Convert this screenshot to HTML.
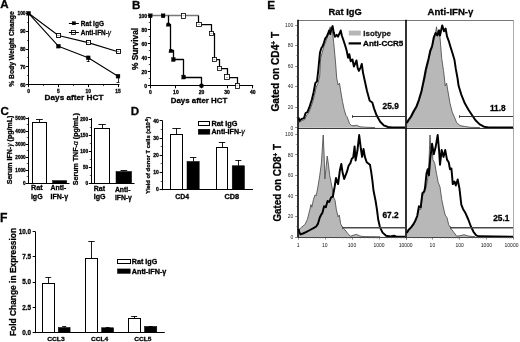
<!DOCTYPE html>
<html><head><meta charset="utf-8"><title>Figure</title>
<style>
html,body{margin:0;padding:0;background:#fff;}
body{width:520px;height:342px;overflow:hidden;}
svg{display:block;font-family:"Liberation Sans", sans-serif;}
</style></head>
<body>
<svg width="520" height="342" viewBox="0 0 520 342">
<defs><filter id="soft" x="0" y="0" width="520" height="342" filterUnits="userSpaceOnUse"><feGaussianBlur stdDeviation="0.42"/></filter></defs>
<rect x="0" y="0" width="520" height="342" fill="#ffffff"/>
<g filter="url(#soft)">
<rect x="0" y="0" width="520" height="342" fill="#ffffff"/>
<text x="0.3" y="8.2" font-size="11.6" text-anchor="start" font-weight="bold" fill="#000" stroke="#000" stroke-width="0.28">A</text>
<text x="132.0" y="8.6" font-size="11.6" text-anchor="start" font-weight="bold" fill="#000" stroke="#000" stroke-width="0.28">B</text>
<text x="0.5" y="115.0" font-size="11.6" text-anchor="start" font-weight="bold" fill="#000" stroke="#000" stroke-width="0.28">C</text>
<text x="130.8" y="114.7" font-size="11.6" text-anchor="start" font-weight="bold" fill="#000" stroke="#000" stroke-width="0.28">D</text>
<text x="267.2" y="8.8" font-size="11.8" text-anchor="start" font-weight="bold" fill="#000" stroke="#000" stroke-width="0.28">E</text>
<text x="-0.1" y="222.0" font-size="12.2" text-anchor="start" font-weight="bold" fill="#000" stroke="#000" stroke-width="0.28">F</text>
<line x1="28.5" y1="12.5" x2="28.5" y2="85.19999999999999" stroke="#000" stroke-width="1.05"/>
<line x1="28.1" y1="84.5" x2="119.5" y2="84.5" stroke="#000" stroke-width="1.05"/>
<line x1="26.1" y1="13.5" x2="28.6" y2="13.5" stroke="#000" stroke-width="1"/>
<text x="25.6" y="15.100000000000001" font-size="4.9" text-anchor="end" font-weight="bold" fill="#000" stroke="#000" stroke-width="0.28">100</text>
<line x1="26.1" y1="31.5" x2="28.6" y2="31.5" stroke="#000" stroke-width="1"/>
<text x="25.6" y="32.97" font-size="4.9" text-anchor="end" font-weight="bold" fill="#000" stroke="#000" stroke-width="0.28">90</text>
<line x1="26.1" y1="49.5" x2="28.6" y2="49.5" stroke="#000" stroke-width="1"/>
<text x="25.6" y="50.83999999999999" font-size="4.9" text-anchor="end" font-weight="bold" fill="#000" stroke="#000" stroke-width="0.28">80</text>
<line x1="26.1" y1="66.5" x2="28.6" y2="66.5" stroke="#000" stroke-width="1"/>
<text x="25.6" y="68.71" font-size="4.9" text-anchor="end" font-weight="bold" fill="#000" stroke="#000" stroke-width="0.28">70</text>
<line x1="26.1" y1="84.5" x2="28.6" y2="84.5" stroke="#000" stroke-width="1"/>
<text x="25.6" y="86.57999999999998" font-size="4.9" text-anchor="end" font-weight="bold" fill="#000" stroke="#000" stroke-width="0.28">60</text>
<line x1="27.1" y1="22.5" x2="28.6" y2="22.5" stroke="#000" stroke-width="0.7"/>
<line x1="27.1" y1="40.5" x2="28.6" y2="40.5" stroke="#000" stroke-width="0.7"/>
<line x1="27.1" y1="57.5" x2="28.6" y2="57.5" stroke="#000" stroke-width="0.7"/>
<line x1="27.1" y1="75.5" x2="28.6" y2="75.5" stroke="#000" stroke-width="0.7"/>
<line x1="28.5" y1="84.6" x2="28.5" y2="87.1" stroke="#000" stroke-width="1"/>
<text x="28.6" y="92.6" font-size="4.9" text-anchor="middle" font-weight="bold" fill="#000" stroke="#000" stroke-width="0.28">0</text>
<line x1="58.5" y1="84.6" x2="58.5" y2="87.1" stroke="#000" stroke-width="1"/>
<text x="58.400000000000006" y="92.6" font-size="4.9" text-anchor="middle" font-weight="bold" fill="#000" stroke="#000" stroke-width="0.28">5</text>
<line x1="88.5" y1="84.6" x2="88.5" y2="87.1" stroke="#000" stroke-width="1"/>
<text x="88.2" y="92.6" font-size="4.9" text-anchor="middle" font-weight="bold" fill="#000" stroke="#000" stroke-width="0.28">10</text>
<line x1="118.5" y1="84.6" x2="118.5" y2="87.1" stroke="#000" stroke-width="1"/>
<text x="118.0" y="92.6" font-size="4.9" text-anchor="middle" font-weight="bold" fill="#000" stroke="#000" stroke-width="0.28">15</text>
<line x1="43.5" y1="84.6" x2="43.5" y2="86.1" stroke="#000" stroke-width="0.7"/>
<line x1="73.5" y1="84.6" x2="73.5" y2="86.1" stroke="#000" stroke-width="0.7"/>
<line x1="103.5" y1="84.6" x2="103.5" y2="86.1" stroke="#000" stroke-width="0.7"/>
<text x="44.6" y="100.2" font-size="8.0" font-weight="bold" fill="#000" textLength="58.80" lengthAdjust="spacingAndGlyphs" stroke="#000" stroke-width="0.28">Days after HCT</text>
<text x="13.6" y="86.8" font-size="6.7" font-weight="bold" fill="#000" textLength="75.50" lengthAdjust="spacingAndGlyphs" transform="rotate(-90 13.6 86.8)" stroke="#000" stroke-width="0.28">% Body Weight Change</text>
<polyline points="28.6,13.3 58.4,35.5 88.2,42.6 118.0,51.7" fill="none" stroke="#000" stroke-width="1.1" stroke-linejoin="round"/>
<polyline points="28.6,13.3 58.4,46.2 88.2,57.8 118.0,76.2" fill="none" stroke="#000" stroke-width="1.1" stroke-linejoin="round"/>
<line x1="88.5" y1="57.7963" x2="88.5" y2="61.906400000000005" stroke="#000" stroke-width="0.8"/>
<line x1="86.7" y1="61.5" x2="89.7" y2="61.5" stroke="#000" stroke-width="0.8"/>
<line x1="118.5" y1="76.2024" x2="118.5" y2="82.09949999999999" stroke="#000" stroke-width="0.8"/>
<line x1="116.5" y1="82.5" x2="119.5" y2="82.5" stroke="#000" stroke-width="0.8"/>
<rect x="56.50" y="33.50" width="4.00" height="4.00" fill="#fff" stroke="#000" stroke-width="0.9"/>
<line x1="57.2" y1="35.5" x2="59.60000000000001" y2="35.5" stroke="#555" stroke-width="0.6"/>
<rect x="86.50" y="40.50" width="4.00" height="4.00" fill="#fff" stroke="#000" stroke-width="0.9"/>
<line x1="87.0" y1="42.5" x2="89.4" y2="42.5" stroke="#555" stroke-width="0.6"/>
<rect x="116.50" y="49.50" width="4.00" height="4.00" fill="#fff" stroke="#000" stroke-width="0.9"/>
<line x1="116.8" y1="51.5" x2="119.2" y2="51.5" stroke="#555" stroke-width="0.6"/>
<rect x="26.70" y="11.40" width="3.80" height="3.80" fill="#000" stroke="#000" stroke-width="0.4"/>
<rect x="56.50" y="44.28" width="3.80" height="3.80" fill="#000" stroke="#000" stroke-width="0.4"/>
<rect x="86.30" y="55.90" width="3.80" height="3.80" fill="#000" stroke="#000" stroke-width="0.4"/>
<rect x="116.10" y="74.30" width="3.80" height="3.80" fill="#000" stroke="#000" stroke-width="0.4"/>
<line x1="68.9" y1="23.5" x2="78.9" y2="23.5" stroke="#000" stroke-width="1"/>
<rect x="72.10" y="21.60" width="3.50" height="3.30" fill="#000" stroke="#000" stroke-width="0.3"/>
<text x="80.8" y="25.5" font-size="6.5" font-weight="bold" fill="#000" textLength="23.20" lengthAdjust="spacingAndGlyphs" stroke="#000" stroke-width="0.28">Rat IgG</text>
<line x1="68.9" y1="32.5" x2="78.9" y2="32.5" stroke="#000" stroke-width="1"/>
<rect x="71.50" y="30.50" width="4.00" height="4.00" fill="none" stroke="#000" stroke-width="0.8"/>
<text x="80.8" y="34.9" font-size="6.5" font-weight="bold" fill="#000" textLength="30.20" lengthAdjust="spacingAndGlyphs" stroke="#000" stroke-width="0.28">Anti-IFN-<tspan font-weight="normal" font-style="italic" fill="#333">&#947;</tspan></text>
<line x1="150.5" y1="15.0" x2="150.5" y2="86.39999999999999" stroke="#000" stroke-width="1.05"/>
<line x1="149.8" y1="85.5" x2="253.20000000000002" y2="85.5" stroke="#000" stroke-width="1.05"/>
<line x1="147.8" y1="15.5" x2="150.3" y2="15.5" stroke="#000" stroke-width="1"/>
<text x="147.10000000000002" y="17.6" font-size="5.0" text-anchor="end" font-weight="bold" fill="#000" stroke="#000" stroke-width="0.28">100</text>
<line x1="147.8" y1="29.5" x2="150.3" y2="29.5" stroke="#000" stroke-width="1"/>
<text x="147.10000000000002" y="31.6" font-size="5.0" text-anchor="end" font-weight="bold" fill="#000" stroke="#000" stroke-width="0.28">80</text>
<line x1="147.8" y1="43.5" x2="150.3" y2="43.5" stroke="#000" stroke-width="1"/>
<text x="147.10000000000002" y="45.599999999999994" font-size="5.0" text-anchor="end" font-weight="bold" fill="#000" stroke="#000" stroke-width="0.28">60</text>
<line x1="147.8" y1="57.5" x2="150.3" y2="57.5" stroke="#000" stroke-width="1"/>
<text x="147.10000000000002" y="59.599999999999994" font-size="5.0" text-anchor="end" font-weight="bold" fill="#000" stroke="#000" stroke-width="0.28">40</text>
<line x1="147.8" y1="71.5" x2="150.3" y2="71.5" stroke="#000" stroke-width="1"/>
<text x="147.10000000000002" y="73.6" font-size="5.0" text-anchor="end" font-weight="bold" fill="#000" stroke="#000" stroke-width="0.28">20</text>
<line x1="147.8" y1="85.5" x2="150.3" y2="85.5" stroke="#000" stroke-width="1"/>
<text x="147.10000000000002" y="87.6" font-size="5.0" text-anchor="end" font-weight="bold" fill="#000" stroke="#000" stroke-width="0.28">0</text>
<line x1="148.8" y1="22.5" x2="150.3" y2="22.5" stroke="#000" stroke-width="0.7"/>
<line x1="148.8" y1="36.5" x2="150.3" y2="36.5" stroke="#000" stroke-width="0.7"/>
<line x1="148.8" y1="50.5" x2="150.3" y2="50.5" stroke="#000" stroke-width="0.7"/>
<line x1="148.8" y1="64.5" x2="150.3" y2="64.5" stroke="#000" stroke-width="0.7"/>
<line x1="148.8" y1="78.5" x2="150.3" y2="78.5" stroke="#000" stroke-width="0.7"/>
<line x1="150.5" y1="85.8" x2="150.5" y2="88.3" stroke="#000" stroke-width="1"/>
<text x="150.3" y="94.0" font-size="5.0" text-anchor="middle" font-weight="bold" fill="#000" stroke="#000" stroke-width="0.28">0</text>
<line x1="175.5" y1="85.8" x2="175.5" y2="88.3" stroke="#000" stroke-width="1"/>
<text x="175.9" y="94.0" font-size="5.0" text-anchor="middle" font-weight="bold" fill="#000" stroke="#000" stroke-width="0.28">10</text>
<line x1="201.5" y1="85.8" x2="201.5" y2="88.3" stroke="#000" stroke-width="1"/>
<text x="201.5" y="94.0" font-size="5.0" text-anchor="middle" font-weight="bold" fill="#000" stroke="#000" stroke-width="0.28">20</text>
<line x1="227.5" y1="85.8" x2="227.5" y2="88.3" stroke="#000" stroke-width="1"/>
<text x="227.10000000000002" y="94.0" font-size="5.0" text-anchor="middle" font-weight="bold" fill="#000" stroke="#000" stroke-width="0.28">30</text>
<line x1="252.5" y1="85.8" x2="252.5" y2="88.3" stroke="#000" stroke-width="1"/>
<text x="252.70000000000002" y="94.0" font-size="5.0" text-anchor="middle" font-weight="bold" fill="#000" stroke="#000" stroke-width="0.28">40</text>
<text x="170.8" y="102.5" font-size="7.9" font-weight="bold" fill="#000" textLength="56.40" lengthAdjust="spacingAndGlyphs" stroke="#000" stroke-width="0.28">Days after HCT</text>
<text x="138.2" y="70" font-size="8.2" font-weight="bold" fill="#000" textLength="42.10" lengthAdjust="spacingAndGlyphs" transform="rotate(-90 138.2 70)" stroke="#000" stroke-width="0.28">% Survival</text>
<polyline points="150.5,15.5 198.5,15.5" fill="none" stroke="#777" stroke-width="1.4" stroke-linejoin="round"/>
<polyline points="198.5,15.5 198.5,24.5 211.5,24.5 211.5,33.5 214.5,33.5 214.5,59.5 219.5,59.5 219.5,68.5 227.5,68.5 227.5,77.5 237.5,77.5 237.5,85.5" fill="none" stroke="#000" stroke-width="1.25" stroke-linejoin="round"/>
<polyline points="168.5,15.5 168.5,24.5 170.5,24.5 170.5,50.5 173.5,50.5 173.5,59.5 183.5,59.5 183.5,77.5 201.5,77.5 201.5,85.5" fill="none" stroke="#000" stroke-width="1.3" stroke-linejoin="round"/>
<rect x="181.50" y="13.50" width="4.00" height="5.00" fill="#fff" stroke="#000" stroke-width="0.8"/>
<line x1="182.58" y1="15.5" x2="184.58" y2="15.5" stroke="#777" stroke-width="0.5"/>
<rect x="196.50" y="22.50" width="5.00" height="4.00" fill="#fff" stroke="#000" stroke-width="0.8"/>
<line x1="197.94" y1="24.5" x2="199.94" y2="24.5" stroke="#777" stroke-width="0.5"/>
<rect x="209.50" y="31.50" width="4.00" height="4.00" fill="#fff" stroke="#000" stroke-width="0.8"/>
<line x1="210.74" y1="33.5" x2="212.74" y2="33.5" stroke="#777" stroke-width="0.5"/>
<rect x="212.50" y="57.50" width="4.00" height="4.00" fill="#fff" stroke="#000" stroke-width="0.8"/>
<line x1="213.3" y1="59.5" x2="215.3" y2="59.5" stroke="#777" stroke-width="0.5"/>
<rect x="217.50" y="66.50" width="4.00" height="4.00" fill="#fff" stroke="#000" stroke-width="0.8"/>
<line x1="218.42000000000002" y1="68.5" x2="220.42000000000002" y2="68.5" stroke="#777" stroke-width="0.5"/>
<rect x="224.50" y="74.50" width="5.00" height="5.00" fill="#fff" stroke="#000" stroke-width="0.8"/>
<line x1="226.10000000000002" y1="77.5" x2="228.10000000000002" y2="77.5" stroke="#777" stroke-width="0.5"/>
<rect x="235.50" y="83.50" width="4.00" height="5.00" fill="#fff" stroke="#000" stroke-width="0.8"/>
<line x1="236.34000000000003" y1="85.5" x2="238.34000000000003" y2="85.5" stroke="#777" stroke-width="0.5"/>
<rect x="148.40" y="13.80" width="3.80" height="4.00" fill="#000" stroke="#000" stroke-width="0.3"/>
<rect x="161.20" y="13.80" width="3.80" height="4.00" fill="#000" stroke="#000" stroke-width="0.3"/>
<rect x="171.44" y="57.55" width="3.80" height="4.00" fill="#000" stroke="#000" stroke-width="0.3"/>
<rect x="181.68" y="75.05" width="3.80" height="4.00" fill="#000" stroke="#000" stroke-width="0.3"/>
<polygon points="166.0,26.4 170.4,26.4 169.7,22.7 166.7,22.7" fill="#000"/>
<polygon points="168.6,52.7 173.0,52.7 172.3,48.9 169.3,48.9" fill="#000"/>
<circle cx="201.5" cy="85.8" r="2.3" fill="#000"/>
<line x1="28.5" y1="117.3" x2="28.5" y2="183.79999999999998" stroke="#000" stroke-width="1.05"/>
<line x1="27.7" y1="183.5" x2="69.5" y2="183.5" stroke="#000" stroke-width="1.05"/>
<line x1="25.7" y1="183.5" x2="28.2" y2="183.5" stroke="#000" stroke-width="1"/>
<text x="25.599999999999998" y="184.89999999999998" font-size="4.6" text-anchor="end" font-weight="bold" fill="#000" stroke="#000" stroke-width="0.28">0</text>
<line x1="25.7" y1="170.5" x2="28.2" y2="170.5" stroke="#000" stroke-width="1"/>
<text x="25.599999999999998" y="171.92999999999998" font-size="4.6" text-anchor="end" font-weight="bold" fill="#000" stroke="#000" stroke-width="0.28">1000</text>
<line x1="25.7" y1="157.5" x2="28.2" y2="157.5" stroke="#000" stroke-width="1"/>
<text x="25.599999999999998" y="158.95999999999998" font-size="4.6" text-anchor="end" font-weight="bold" fill="#000" stroke="#000" stroke-width="0.28">2000</text>
<line x1="25.7" y1="144.5" x2="28.2" y2="144.5" stroke="#000" stroke-width="1"/>
<text x="25.599999999999998" y="145.98999999999998" font-size="4.6" text-anchor="end" font-weight="bold" fill="#000" stroke="#000" stroke-width="0.28">3000</text>
<line x1="25.7" y1="131.5" x2="28.2" y2="131.5" stroke="#000" stroke-width="1"/>
<text x="25.599999999999998" y="133.01999999999998" font-size="4.6" text-anchor="end" font-weight="bold" fill="#000" stroke="#000" stroke-width="0.28">4000</text>
<line x1="25.7" y1="118.5" x2="28.2" y2="118.5" stroke="#000" stroke-width="1"/>
<text x="25.599999999999998" y="120.04999999999998" font-size="4.6" text-anchor="end" font-weight="bold" fill="#000" stroke="#000" stroke-width="0.28">5000</text>
<line x1="26.7" y1="176.5" x2="28.2" y2="176.5" stroke="#000" stroke-width="0.6"/>
<line x1="26.7" y1="163.5" x2="28.2" y2="163.5" stroke="#000" stroke-width="0.6"/>
<line x1="26.7" y1="150.5" x2="28.2" y2="150.5" stroke="#000" stroke-width="0.6"/>
<line x1="26.7" y1="137.5" x2="28.2" y2="137.5" stroke="#000" stroke-width="0.6"/>
<line x1="26.7" y1="124.5" x2="28.2" y2="124.5" stroke="#000" stroke-width="0.6"/>
<line x1="39.5" y1="122.63009999999998" x2="39.5" y2="119.51729999999998" stroke="#000" stroke-width="0.9"/>
<line x1="36" y1="119.5" x2="42.8" y2="119.5" stroke="#000" stroke-width="0.9"/>
<rect x="32.50" y="122.50" width="14.00" height="61.00" fill="#fff" stroke="#000" stroke-width="1.0"/>
<rect x="52.60" y="180.61" width="14.10" height="2.59" fill="#000" stroke="#000" stroke-width="0.5"/>
<text x="30.9" y="190.4" font-size="6.8" font-weight="bold" fill="#000" textLength="11.70" lengthAdjust="spacingAndGlyphs" stroke="#000" stroke-width="0.28">Rat</text>
<text x="30.9" y="198.5" font-size="6.8" font-weight="bold" fill="#000" textLength="11.70" lengthAdjust="spacingAndGlyphs" stroke="#000" stroke-width="0.28">IgG</text>
<text x="50.6" y="190.4" font-size="6.8" font-weight="bold" fill="#000" textLength="15.60" lengthAdjust="spacingAndGlyphs" stroke="#000" stroke-width="0.28">Anti-</text>
<text x="50.6" y="198.5" font-size="6.8" font-weight="bold" fill="#000" textLength="17.50" lengthAdjust="spacingAndGlyphs" stroke="#000" stroke-width="0.28">IFN-&#947;</text>
<text x="12.5" y="184.2" font-size="6.8" font-weight="bold" fill="#000" textLength="68.50" lengthAdjust="spacingAndGlyphs" transform="rotate(-90 12.5 184.2)" stroke="#000" stroke-width="0.28">Serum IFN-<tspan font-weight="normal" font-style="italic" fill="#333">&#947;</tspan> (pg/mL)</text>
<line x1="91.5" y1="118.2" x2="91.5" y2="184.0" stroke="#000" stroke-width="1.05"/>
<line x1="90.8" y1="183.5" x2="134.5" y2="183.5" stroke="#000" stroke-width="1.05"/>
<line x1="88.8" y1="183.5" x2="91.3" y2="183.5" stroke="#000" stroke-width="1"/>
<text x="88.1" y="185.1" font-size="4.7" text-anchor="end" font-weight="bold" fill="#000" stroke="#000" stroke-width="0.28">0</text>
<line x1="88.8" y1="167.5" x2="91.3" y2="167.5" stroke="#000" stroke-width="1"/>
<text x="88.1" y="169.0" font-size="4.7" text-anchor="end" font-weight="bold" fill="#000" stroke="#000" stroke-width="0.28">50</text>
<line x1="88.8" y1="151.5" x2="91.3" y2="151.5" stroke="#000" stroke-width="1"/>
<text x="88.1" y="152.89999999999998" font-size="4.7" text-anchor="end" font-weight="bold" fill="#000" stroke="#000" stroke-width="0.28">100</text>
<line x1="88.8" y1="135.5" x2="91.3" y2="135.5" stroke="#000" stroke-width="1"/>
<text x="88.1" y="136.79999999999998" font-size="4.7" text-anchor="end" font-weight="bold" fill="#000" stroke="#000" stroke-width="0.28">150</text>
<line x1="88.8" y1="119.5" x2="91.3" y2="119.5" stroke="#000" stroke-width="1"/>
<text x="88.1" y="120.7" font-size="4.7" text-anchor="end" font-weight="bold" fill="#000" stroke="#000" stroke-width="0.28">200</text>
<line x1="89.8" y1="175.5" x2="91.3" y2="175.5" stroke="#000" stroke-width="0.6"/>
<line x1="89.8" y1="159.5" x2="91.3" y2="159.5" stroke="#000" stroke-width="0.6"/>
<line x1="89.8" y1="143.5" x2="91.3" y2="143.5" stroke="#000" stroke-width="0.6"/>
<line x1="89.8" y1="127.5" x2="91.3" y2="127.5" stroke="#000" stroke-width="0.6"/>
<line x1="102.5" y1="128.66" x2="102.5" y2="124.474" stroke="#000" stroke-width="0.9"/>
<line x1="98.4" y1="124.5" x2="105.8" y2="124.5" stroke="#000" stroke-width="0.9"/>
<rect x="94.50" y="128.50" width="15.00" height="55.00" fill="#fff" stroke="#000" stroke-width="1.0"/>
<line x1="123.5" y1="171.48600000000002" x2="123.5" y2="170.198" stroke="#000" stroke-width="0.9"/>
<line x1="120.5" y1="170.5" x2="127.2" y2="170.5" stroke="#000" stroke-width="0.9"/>
<rect x="116.00" y="171.49" width="15.60" height="11.91" fill="#000" stroke="#000" stroke-width="0.5"/>
<text x="93.7" y="191.1" font-size="6.8" font-weight="bold" fill="#000" textLength="11.30" lengthAdjust="spacingAndGlyphs" stroke="#000" stroke-width="0.28">Rat</text>
<text x="93.7" y="199.2" font-size="6.8" font-weight="bold" fill="#000" textLength="11.80" lengthAdjust="spacingAndGlyphs" stroke="#000" stroke-width="0.28">IgG</text>
<text x="114.9" y="191.8" font-size="6.8" font-weight="bold" fill="#000" textLength="15.60" lengthAdjust="spacingAndGlyphs" stroke="#000" stroke-width="0.28">Anti-</text>
<text x="114.9" y="200.0" font-size="6.8" font-weight="bold" fill="#000" textLength="17.00" lengthAdjust="spacingAndGlyphs" stroke="#000" stroke-width="0.28">IFN-&#947;</text>
<text x="78.4" y="185.2" font-size="7.0" font-weight="bold" fill="#000" textLength="72.00" lengthAdjust="spacingAndGlyphs" transform="rotate(-90 78.4 185.2)" stroke="#000" stroke-width="0.28">Serum TNF-<tspan font-weight="normal" font-style="italic" fill="#333">&#945;</tspan> (pg/mL)</text>
<line x1="162.5" y1="120.3" x2="162.5" y2="190.2" stroke="#000" stroke-width="1.05"/>
<line x1="161.6" y1="189.5" x2="253" y2="189.5" stroke="#000" stroke-width="1.05"/>
<line x1="159.6" y1="189.5" x2="162.1" y2="189.5" stroke="#000" stroke-width="1"/>
<text x="158.9" y="191.4" font-size="5.0" text-anchor="end" font-weight="bold" fill="#000" stroke="#000" stroke-width="0.28">0</text>
<line x1="159.6" y1="172.5" x2="162.1" y2="172.5" stroke="#000" stroke-width="1"/>
<text x="158.9" y="174.25" font-size="5.0" text-anchor="end" font-weight="bold" fill="#000" stroke="#000" stroke-width="0.28">10</text>
<line x1="159.6" y1="155.5" x2="162.1" y2="155.5" stroke="#000" stroke-width="1"/>
<text x="158.9" y="157.1" font-size="5.0" text-anchor="end" font-weight="bold" fill="#000" stroke="#000" stroke-width="0.28">20</text>
<line x1="159.6" y1="138.5" x2="162.1" y2="138.5" stroke="#000" stroke-width="1"/>
<text x="158.9" y="139.95" font-size="5.0" text-anchor="end" font-weight="bold" fill="#000" stroke="#000" stroke-width="0.28">30</text>
<line x1="159.6" y1="120.5" x2="162.1" y2="120.5" stroke="#000" stroke-width="1"/>
<text x="158.9" y="122.79999999999998" font-size="5.0" text-anchor="end" font-weight="bold" fill="#000" stroke="#000" stroke-width="0.28">40</text>
<line x1="160.6" y1="181.5" x2="162.1" y2="181.5" stroke="#000" stroke-width="0.6"/>
<line x1="160.6" y1="163.5" x2="162.1" y2="163.5" stroke="#000" stroke-width="0.6"/>
<line x1="160.6" y1="146.5" x2="162.1" y2="146.5" stroke="#000" stroke-width="0.6"/>
<line x1="160.6" y1="129.5" x2="162.1" y2="129.5" stroke="#000" stroke-width="0.6"/>
<line x1="176.5" y1="134.034" x2="176.5" y2="128.546" stroke="#000" stroke-width="0.9"/>
<line x1="172.4" y1="128.5" x2="180.79999999999998" y2="128.5" stroke="#000" stroke-width="0.9"/>
<rect x="170.50" y="134.50" width="12.00" height="55.00" fill="#fff" stroke="#000" stroke-width="1.0"/>
<line x1="193.5" y1="161.474" x2="193.5" y2="157.358" stroke="#000" stroke-width="0.9"/>
<line x1="189.9" y1="157.5" x2="196.29999999999998" y2="157.5" stroke="#000" stroke-width="0.9"/>
<rect x="187.00" y="161.47" width="12.20" height="28.13" fill="#000" stroke="#000" stroke-width="0.5"/>
<line x1="222.5" y1="147.06799999999998" x2="222.5" y2="142.09449999999998" stroke="#000" stroke-width="0.9"/>
<line x1="218.8" y1="142.5" x2="225.2" y2="142.5" stroke="#000" stroke-width="0.9"/>
<rect x="216.50" y="147.50" width="11.00" height="42.00" fill="#fff" stroke="#000" stroke-width="1.0"/>
<line x1="238.5" y1="165.76149999999998" x2="238.5" y2="160.445" stroke="#000" stroke-width="0.9"/>
<line x1="235.35" y1="160.5" x2="241.35" y2="160.5" stroke="#000" stroke-width="0.9"/>
<rect x="232.20" y="165.76" width="12.30" height="23.84" fill="#000" stroke="#000" stroke-width="0.5"/>
<text x="175.3" y="199.2" font-size="7.0" font-weight="bold" fill="#000" textLength="13.80" lengthAdjust="spacingAndGlyphs" stroke="#000" stroke-width="0.28">CD4</text>
<text x="224.5" y="199.0" font-size="7.0" font-weight="bold" fill="#000" textLength="14.70" lengthAdjust="spacingAndGlyphs" stroke="#000" stroke-width="0.28">CD8</text>
<text x="150.2" y="193.7" font-size="5.6" font-weight="bold" fill="#000" textLength="76.80" lengthAdjust="spacingAndGlyphs" transform="rotate(-90 150.2 193.7)" stroke="#000" stroke-width="0.28">Yield of donor T cells (x10<tspan dy="-2" font-size="3.6">-6</tspan><tspan dy="2">)</tspan></text>
<rect x="198.50" y="121.50" width="11.00" height="4.00" fill="#fff" stroke="#000" stroke-width="1.0"/>
<text x="211.5" y="126.1" font-size="6.5" font-weight="bold" fill="#000" textLength="26.00" lengthAdjust="spacingAndGlyphs" stroke="#000" stroke-width="0.28">Rat IgG</text>
<rect x="198.20" y="129.20" width="11.70" height="5.10" fill="#000" stroke="#000" stroke-width="0.4"/>
<text x="211.5" y="134.2" font-size="6.5" font-weight="bold" fill="#000" textLength="33.40" lengthAdjust="spacingAndGlyphs" stroke="#000" stroke-width="0.28">Anti-IFN-<tspan font-weight="normal" font-style="italic" fill="#333">&#947;</tspan></text>
<line x1="35.5" y1="231.5" x2="35.5" y2="333.1" stroke="#000" stroke-width="1.05"/>
<line x1="34.7" y1="332.5" x2="164.8" y2="332.5" stroke="#000" stroke-width="1.05"/>
<line x1="32.7" y1="332.5" x2="35.2" y2="332.5" stroke="#000" stroke-width="1"/>
<text x="31.000000000000004" y="334.7" font-size="6.3" text-anchor="end" font-weight="bold" fill="#000" stroke="#000" stroke-width="0.28">0.0</text>
<line x1="32.7" y1="307.5" x2="35.2" y2="307.5" stroke="#000" stroke-width="1"/>
<text x="31.000000000000004" y="309.5" font-size="6.3" text-anchor="end" font-weight="bold" fill="#000" stroke="#000" stroke-width="0.28">2.5</text>
<line x1="32.7" y1="282.5" x2="35.2" y2="282.5" stroke="#000" stroke-width="1"/>
<text x="31.000000000000004" y="284.3" font-size="6.3" text-anchor="end" font-weight="bold" fill="#000" stroke="#000" stroke-width="0.28">5.0</text>
<line x1="32.7" y1="256.5" x2="35.2" y2="256.5" stroke="#000" stroke-width="1"/>
<text x="31.000000000000004" y="259.09999999999997" font-size="6.3" text-anchor="end" font-weight="bold" fill="#000" stroke="#000" stroke-width="0.28">7.5</text>
<line x1="32.7" y1="231.5" x2="35.2" y2="231.5" stroke="#000" stroke-width="1"/>
<text x="31.000000000000004" y="233.89999999999998" font-size="6.3" text-anchor="end" font-weight="bold" fill="#000" stroke="#000" stroke-width="0.28">10.0</text>
<line x1="48.5" y1="283.108" x2="48.5" y2="277.564" stroke="#000" stroke-width="0.9"/>
<line x1="45.4" y1="277.5" x2="51.199999999999996" y2="277.5" stroke="#000" stroke-width="0.9"/>
<rect x="42.50" y="283.50" width="12.00" height="49.00" fill="#fff" stroke="#000" stroke-width="1.0"/>
<line x1="64.5" y1="327.46" x2="64.5" y2="326.956" stroke="#000" stroke-width="0.9"/>
<line x1="62.2" y1="326.5" x2="66.2" y2="326.5" stroke="#000" stroke-width="0.9"/>
<rect x="58.30" y="327.46" width="11.80" height="5.04" fill="#000" stroke="#000" stroke-width="0.5"/>
<line x1="91.5" y1="258.2104" x2="91.5" y2="241.276" stroke="#000" stroke-width="0.9"/>
<line x1="88.25" y1="241.5" x2="94.65" y2="241.5" stroke="#000" stroke-width="0.9"/>
<rect x="85.50" y="258.50" width="12.00" height="74.00" fill="#fff" stroke="#000" stroke-width="1.0"/>
<line x1="107.5" y1="327.7624" x2="107.5" y2="327.46" stroke="#000" stroke-width="0.9"/>
<line x1="105.6" y1="327.5" x2="109.6" y2="327.5" stroke="#000" stroke-width="0.9"/>
<rect x="101.60" y="327.76" width="12.00" height="4.74" fill="#000" stroke="#000" stroke-width="0.5"/>
<line x1="134.5" y1="318.388" x2="134.5" y2="316.372" stroke="#000" stroke-width="0.9"/>
<line x1="131.20000000000002" y1="316.5" x2="137.20000000000002" y2="316.5" stroke="#000" stroke-width="0.9"/>
<rect x="128.50" y="318.50" width="12.00" height="14.00" fill="#fff" stroke="#000" stroke-width="1.0"/>
<line x1="150.5" y1="326.452" x2="150.5" y2="326.2504" stroke="#000" stroke-width="0.9"/>
<line x1="148.65" y1="326.5" x2="152.65" y2="326.5" stroke="#000" stroke-width="0.9"/>
<rect x="144.50" y="326.45" width="12.30" height="6.05" fill="#000" stroke="#000" stroke-width="0.5"/>
<text x="47.2" y="340.6" font-size="6.2" font-weight="bold" fill="#000" textLength="17.50" lengthAdjust="spacingAndGlyphs" stroke="#000" stroke-width="0.28">CCL3</text>
<text x="91" y="340.6" font-size="6.2" font-weight="bold" fill="#000" textLength="17.20" lengthAdjust="spacingAndGlyphs" stroke="#000" stroke-width="0.28">CCL4</text>
<text x="134.2" y="340.6" font-size="6.2" font-weight="bold" fill="#000" textLength="17.30" lengthAdjust="spacingAndGlyphs" stroke="#000" stroke-width="0.28">CCL5</text>
<text x="15.6" y="336" font-size="8.6" font-weight="bold" fill="#000" textLength="108.10" lengthAdjust="spacingAndGlyphs" transform="rotate(-90 15.6 336)" stroke="#000" stroke-width="0.28">Fold Change in Expression</text>
<rect x="117.50" y="259.50" width="13.00" height="4.00" fill="#fff" stroke="#000" stroke-width="1.0"/>
<text x="131.8" y="263.9" font-size="6.3" font-weight="bold" fill="#000" textLength="25.40" lengthAdjust="spacingAndGlyphs" stroke="#000" stroke-width="0.28">Rat IgG</text>
<rect x="117.40" y="268.90" width="12.90" height="4.60" fill="#000" stroke="#000" stroke-width="0.4"/>
<text x="131.8" y="273.7" font-size="6.3" font-weight="bold" fill="#000" textLength="34.60" lengthAdjust="spacingAndGlyphs" stroke="#000" stroke-width="0.28">Anti-IFN-&#947;</text>
<text x="328.6" y="15.4" font-size="9.6" font-weight="bold" fill="#000" textLength="33.20" lengthAdjust="spacingAndGlyphs" stroke="#000" stroke-width="0.28">Rat IgG</text>
<text x="427.5" y="15.4" font-size="9.6" font-weight="bold" fill="#000" textLength="45.90" lengthAdjust="spacingAndGlyphs" stroke="#000" stroke-width="0.28">Anti-IFN-&#947;</text>
<text x="279.4" y="111.6" font-size="10.2" font-weight="bold" fill="#000" textLength="79.70" lengthAdjust="spacingAndGlyphs" transform="rotate(-90 279.4 111.6)" stroke="#000" stroke-width="0.28">Gated on CD4<tspan dy="-3" font-size="6.5">+</tspan><tspan dy="3"> T</tspan></text>
<text x="281.3" y="221.6" font-size="10.2" font-weight="bold" fill="#000" textLength="77.60" lengthAdjust="spacingAndGlyphs" transform="rotate(-90 281.3 221.6)" stroke="#000" stroke-width="0.28">Gated on CD8<tspan dy="-3" font-size="6.5">+</tspan><tspan dy="3"> T</tspan></text>
<polygon points="298.6,127.8 298.6,123.0 299.5,122.4 302.2,120.5 304.8,119.5 306.5,115.0 308.3,113.5 310.1,109.5 312.7,102.0 314.4,95.5 316.2,87.0 317.9,83.5 319.7,76.0 320.6,58.4 322.3,52.0 324.0,46.0 326.7,39.0 328.5,33.0 329.3,30.0 330.2,26.8 331.0,31.0 331.8,28.5 332.6,33.0 333.7,42.6 335.5,61.9 336.7,78.0 338.1,84.9 339.5,83.2 340.7,91.0 342.5,101.6 344.2,109.5 346.0,115.6 346.9,116.5 348.6,120.9 349.5,123.5 351.3,125.3 353.0,125.8 356.5,125.3 360.0,126.8 365.0,127.2 375.0,127.6 405.0,127.8" fill="#b8b8b8" stroke="none"/>
<polyline points="298.6,123.0 299.5,122.4 302.2,120.5 304.8,119.5 306.5,115.0 308.3,113.5 310.1,109.5 312.7,102.0 314.4,95.5 316.2,87.0 317.9,83.5 319.7,76.0 320.6,58.4 322.3,52.0 324.0,46.0 326.7,39.0 328.5,33.0 329.3,30.0 330.2,26.8 331.0,31.0 331.8,28.5 332.6,33.0 333.7,42.6 335.5,61.9 336.7,78.0 338.1,84.9 339.5,83.2 340.7,91.0 342.5,101.6 344.2,109.5 346.0,115.6 346.9,116.5 348.6,120.9 349.5,123.5 351.3,125.3 353.0,125.8 356.5,125.3 360.0,126.8 365.0,127.2 375.0,127.6" fill="none" stroke="#4a4a4a" stroke-width="0.85" stroke-linejoin="round"/>
<polyline points="298.6,117.5 299.5,120.9 301.3,119.1 303.9,118.2 305.6,113.0 307.4,112.1 309.2,107.7 311.8,99.8 313.5,92.8 315.3,83.2 317.0,81.4 318.3,70.0 318.8,64.5 320.0,52.5 321.4,48.0 322.6,46.3 323.9,42.8 325.3,38.4 326.7,36.7 327.9,34.0 329.1,30.5 330.2,34.0 331.4,28.8 332.6,26.1 333.7,32.3 334.9,36.7 336.7,34.9 338.0,36.7 339.3,34.0 340.7,30.5 341.9,35.8 343.7,41.0 345.4,46.3 346.7,50.7 348.1,57.7 349.3,54.2 350.7,61.2 352.5,59.5 353.9,66.5 355.1,63.9 356.5,60.4 357.7,68.2 358.9,70.9 360.7,67.4 361.8,63.9 363.0,72.6 364.7,80.5 367.0,91.0 369.7,100.7 372.3,102.5 374.1,108.6 376.7,115.6 380.2,121.8 383.7,125.3 388.1,127.0 392.0,127.4 405.0,127.5" fill="none" stroke="#000" stroke-width="1.95" stroke-linejoin="round"/>
<polygon points="406.8,127.8 406.8,123.5 408.4,121.5 411.0,118.0 413.6,113.0 416.3,108.5 418.9,101.5 421.5,93.0 423.3,85.0 425.0,78.0 426.5,70.0 428.6,61.0 430.3,53.0 432.1,48.0 433.8,40.0 435.6,33.0 436.5,26.8 437.3,33.0 438.2,30.5 439.1,35.0 440.0,37.3 441.7,58.4 443.5,70.6 444.4,78.0 445.2,85.8 446.6,83.2 447.9,91.0 450.0,103.3 452.2,112.1 454.9,118.2 456.6,122.6 460.1,125.6 464.8,126.5 470.0,127.3 480.0,127.6 513.0,127.8" fill="#b8b8b8" stroke="none"/>
<polyline points="406.8,123.5 408.4,121.5 411.0,118.0 413.6,113.0 416.3,108.5 418.9,101.5 421.5,93.0 423.3,85.0 425.0,78.0 426.5,70.0 428.6,61.0 430.3,53.0 432.1,48.0 433.8,40.0 435.6,33.0 436.5,26.8 437.3,33.0 438.2,30.5 439.1,35.0 440.0,37.3 441.7,58.4 443.5,70.6 444.4,78.0 445.2,85.8 446.6,83.2 447.9,91.0 450.0,103.3 452.2,112.1 454.9,118.2 456.6,122.6 460.1,125.6 464.8,126.5 470.0,127.3 480.0,127.6" fill="none" stroke="#4a4a4a" stroke-width="0.85" stroke-linejoin="round"/>
<polyline points="406.8,123.0 408.4,120.0 411.0,116.5 413.6,111.2 416.3,106.8 418.9,99.8 421.5,91.0 423.3,82.3 424.2,78.0 425.9,68.9 428.6,58.4 430.3,50.5 432.1,46.1 433.8,37.3 435.6,32.9 437.3,35.5 439.1,30.3 440.0,35.5 442.2,25.4 444.0,31.2 445.6,28.5 447.0,36.4 448.7,40.8 450.5,46.9 452.2,52.2 454.5,60.1 455.8,68.9 457.5,78.0 458.6,85.8 461.3,94.6 464.8,103.3 468.3,109.5 471.8,114.7 475.3,120.0 479.7,124.4 484.0,126.7 488.5,127.4 513.0,127.5" fill="none" stroke="#000" stroke-width="1.95" stroke-linejoin="round"/>
<polygon points="298.6,237.0 298.6,230.0 301.3,227.4 304.8,224.7 307.4,219.5 310.0,209.0 310.9,204.6 311.8,207.2 313.5,199.3 315.0,194.9 316.2,195.8 317.9,187.0 319.7,176.0 321.4,163.1 322.3,149.0 323.2,135.0 324.1,154.3 324.9,178.9 326.2,166.6 327.2,156.1 328.5,164.8 329.7,175.4 331.1,182.4 332.0,187.0 333.7,197.5 335.0,200.2 336.4,209.8 338.1,216.8 339.3,215.1 340.7,223.9 342.5,227.4 345.1,230.0 347.8,233.5 350.4,236.3 353.0,235.3 356.5,234.4 360.0,236.1 365.0,236.6 380.0,236.8 405.0,237.0" fill="#b8b8b8" stroke="none"/>
<polyline points="298.6,230.0 301.3,227.4 304.8,224.7 307.4,219.5 310.0,209.0 310.9,204.6 311.8,207.2 313.5,199.3 315.0,194.9 316.2,195.8 317.9,187.0 319.7,176.0 321.4,163.1 322.3,149.0 323.2,135.0 324.1,154.3 324.9,178.9 326.2,166.6 327.2,156.1 328.5,164.8 329.7,175.4 331.1,182.4 332.0,187.0 333.7,197.5 335.0,200.2 336.4,209.8 338.1,216.8 339.3,215.1 340.7,223.9 342.5,227.4 345.1,230.0 347.8,233.5 350.4,236.3 353.0,235.3 356.5,234.4 360.0,236.1 365.0,236.6 380.0,236.8" fill="none" stroke="#4a4a4a" stroke-width="0.85" stroke-linejoin="round"/>
<polyline points="298.6,229.0 299.2,231.8 300.4,234.4 303.0,233.5 306.5,231.8 310.0,230.0 313.5,228.2 316.2,226.5 317.9,223.9 319.7,217.7 321.4,214.2 322.3,213.3 324.1,206.3 325.8,207.2 327.6,201.0 329.3,201.9 331.1,197.5 332.8,196.7 334.6,187.0 336.0,178.0 338.1,184.1 339.9,170.1 341.3,164.0 342.5,171.9 344.2,178.9 346.9,171.9 348.6,165.7 350.4,163.1 351.8,158.7 353.2,157.5 354.6,146.4 355.6,160.5 357.4,150.8 359.2,135.0 360.9,149.0 362.1,156.9 363.5,149.0 364.9,156.9 366.7,162.2 370.0,164.8 371.2,171.9 372.4,180.6 373.5,190.5 375.6,201.0 377.0,209.8 378.2,219.5 380.0,227.4 382.6,232.6 386.1,235.8 390.5,236.5 394.0,235.8 396.6,236.6 405.0,236.7" fill="none" stroke="#000" stroke-width="1.95" stroke-linejoin="round"/>
<polygon points="406.8,237.0 406.8,233.0 408.4,231.0 411.0,228.5 413.6,225.0 415.4,222.0 417.2,217.0 418.9,209.0 420.7,209.5 422.4,196.0 424.2,193.0 425.9,188.0 427.7,178.9 428.9,163.1 430.0,135.0 430.8,149.0 431.7,143.8 432.9,159.6 434.7,163.1 436.5,173.6 438.2,182.4 440.0,187.0 441.7,199.3 443.5,208.0 445.2,215.1 447.0,217.7 448.7,224.7 451.4,229.1 454.0,232.6 456.6,236.1 460.0,235.8 464.0,234.7 468.0,236.0 475.0,236.7 513.0,237.0" fill="#b8b8b8" stroke="none"/>
<polyline points="406.8,233.0 408.4,231.0 411.0,228.5 413.6,225.0 415.4,222.0 417.2,217.0 418.9,209.0 420.7,209.5 422.4,196.0 424.2,193.0 425.9,188.0 427.7,178.9 428.9,163.1 430.0,135.0 430.8,149.0 431.7,143.8 432.9,159.6 434.7,163.1 436.5,173.6 438.2,182.4 440.0,187.0 441.7,199.3 443.5,208.0 445.2,215.1 447.0,217.7 448.7,224.7 451.4,229.1 454.0,232.6 456.6,236.1 460.0,235.8 464.0,234.7 468.0,236.0 475.0,236.7" fill="none" stroke="#4a4a4a" stroke-width="0.85" stroke-linejoin="round"/>
<polyline points="406.8,233.0 408.4,230.0 411.0,227.4 413.6,223.9 415.4,220.4 417.2,216.0 418.9,206.3 420.7,207.2 422.4,193.2 424.2,191.4 425.0,188.0 426.5,173.6 427.7,169.2 428.9,175.4 430.3,157.8 432.1,143.8 433.8,154.3 435.6,147.3 437.7,135.0 439.1,150.8 440.0,164.8 441.7,149.9 443.5,156.9 445.2,149.9 447.0,159.6 448.7,162.2 450.0,169.2 451.4,168.4 452.8,184.1 454.5,181.5 455.8,185.5 457.7,179.5 459.5,188.8 461.3,204.6 463.0,208.9 465.6,213.3 468.3,219.5 470.9,226.5 473.5,231.8 476.2,235.3 478.8,236.3 513.0,236.7" fill="none" stroke="#000" stroke-width="1.95" stroke-linejoin="round"/>
<line x1="352.1" y1="116.5" x2="405" y2="116.5" stroke="#222" stroke-width="0.9"/>
<line x1="352.5" y1="115.0" x2="352.5" y2="118.0" stroke="#222" stroke-width="0.7"/>
<line x1="459.4" y1="116.5" x2="513" y2="116.5" stroke="#222" stroke-width="0.9"/>
<line x1="459.5" y1="115.0" x2="459.5" y2="118.0" stroke="#222" stroke-width="0.7"/>
<line x1="342.5" y1="227.7" x2="405" y2="227.7" stroke="#4a4a4a" stroke-width="1.6"/>
<line x1="342.5" y1="226.2" x2="342.5" y2="229.2" stroke="#4a4a4a" stroke-width="0.7"/>
<line x1="450.5" y1="227.7" x2="513" y2="227.7" stroke="#4a4a4a" stroke-width="1.6"/>
<line x1="450.5" y1="226.2" x2="450.5" y2="229.2" stroke="#4a4a4a" stroke-width="0.7"/>
<text x="382.6" y="108.9" font-size="8.3" text-anchor="start" font-weight="bold" fill="#000" stroke="#000" stroke-width="0.28">25.9</text>
<text x="489.9" y="110.5" font-size="8.3" text-anchor="start" font-weight="bold" fill="#000" stroke="#000" stroke-width="0.28">11.8</text>
<text x="382.5" y="217.7" font-size="8.3" text-anchor="start" font-weight="bold" fill="#000" stroke="#000" stroke-width="0.28">67.2</text>
<text x="493.2" y="221.3" font-size="8.3" text-anchor="start" font-weight="bold" fill="#000" stroke="#000" stroke-width="0.28">25.1</text>
<rect x="348.80" y="30.60" width="12.00" height="4.90" fill="#b6b6b6" stroke="none" stroke-width="0"/>
<text x="363.3" y="35.6" font-size="7.6" font-weight="bold" fill="#222" textLength="27.70" lengthAdjust="spacingAndGlyphs" stroke="#222" stroke-width="0.28">Isotype</text>
<line x1="348.6" y1="43.4" x2="361" y2="43.4" stroke="#000" stroke-width="2.2"/>
<text x="363.1" y="46.1" font-size="7.6" font-weight="bold" fill="#000" textLength="40.20" lengthAdjust="spacingAndGlyphs" stroke="#000" stroke-width="0.28">Anti-CCR5</text>
<line x1="297.6" y1="20.5" x2="513.6" y2="20.5" stroke="#555" stroke-width="0.8"/>
<line x1="513.5" y1="20" x2="513.5" y2="237.5" stroke="#888" stroke-width="0.7"/>
<line x1="297.8" y1="128.5" x2="513.5" y2="128.5" stroke="#3a3a3a" stroke-width="1.2"/>
<line x1="297.8" y1="237.5" x2="513.5" y2="237.5" stroke="#444" stroke-width="1.1"/>
<line x1="298.0" y1="19.8" x2="298.0" y2="237.6" stroke="#000" stroke-width="1.6"/>
<line x1="406.0" y1="19.8" x2="406.0" y2="237.6" stroke="#000" stroke-width="1.6"/>
<line x1="295.2" y1="127.5" x2="297.5" y2="127.5" stroke="#333" stroke-width="0.6"/>
<text x="293.4" y="129.6" font-size="5.0" text-anchor="end" font-weight="normal" fill="#222">0</text>
<line x1="295.2" y1="107.5" x2="297.5" y2="107.5" stroke="#333" stroke-width="0.6"/>
<text x="293.4" y="109.03999999999999" font-size="5.0" text-anchor="end" font-weight="normal" fill="#222">20</text>
<line x1="295.2" y1="86.5" x2="297.5" y2="86.5" stroke="#333" stroke-width="0.6"/>
<text x="293.4" y="88.48" font-size="5.0" text-anchor="end" font-weight="normal" fill="#222">40</text>
<line x1="295.2" y1="66.5" x2="297.5" y2="66.5" stroke="#333" stroke-width="0.6"/>
<text x="293.4" y="67.92" font-size="5.0" text-anchor="end" font-weight="normal" fill="#222">60</text>
<line x1="295.2" y1="45.5" x2="297.5" y2="45.5" stroke="#333" stroke-width="0.6"/>
<text x="293.4" y="47.36" font-size="5.0" text-anchor="end" font-weight="normal" fill="#222">80</text>
<line x1="295.2" y1="25.5" x2="297.5" y2="25.5" stroke="#333" stroke-width="0.6"/>
<text x="293.4" y="26.8" font-size="5.0" text-anchor="end" font-weight="normal" fill="#222">100</text>
<line x1="296.2" y1="117.5" x2="297.5" y2="117.5" stroke="#555" stroke-width="0.5"/>
<line x1="296.2" y1="96.5" x2="297.5" y2="96.5" stroke="#555" stroke-width="0.5"/>
<line x1="296.2" y1="76.5" x2="297.5" y2="76.5" stroke="#555" stroke-width="0.5"/>
<line x1="296.2" y1="55.5" x2="297.5" y2="55.5" stroke="#555" stroke-width="0.5"/>
<line x1="296.2" y1="35.5" x2="297.5" y2="35.5" stroke="#555" stroke-width="0.5"/>
<line x1="295.2" y1="237.5" x2="297.5" y2="237.5" stroke="#333" stroke-width="0.6"/>
<text x="293.4" y="238.8" font-size="5.0" text-anchor="end" font-weight="normal" fill="#222">0</text>
<line x1="295.2" y1="216.5" x2="297.5" y2="216.5" stroke="#333" stroke-width="0.6"/>
<text x="293.4" y="218.28" font-size="5.0" text-anchor="end" font-weight="normal" fill="#222">20</text>
<line x1="295.2" y1="195.5" x2="297.5" y2="195.5" stroke="#333" stroke-width="0.6"/>
<text x="293.4" y="197.76000000000002" font-size="5.0" text-anchor="end" font-weight="normal" fill="#222">40</text>
<line x1="295.2" y1="175.5" x2="297.5" y2="175.5" stroke="#333" stroke-width="0.6"/>
<text x="293.4" y="177.24" font-size="5.0" text-anchor="end" font-weight="normal" fill="#222">60</text>
<line x1="295.2" y1="154.5" x2="297.5" y2="154.5" stroke="#333" stroke-width="0.6"/>
<text x="293.4" y="156.72000000000003" font-size="5.0" text-anchor="end" font-weight="normal" fill="#222">80</text>
<line x1="295.2" y1="134.5" x2="297.5" y2="134.5" stroke="#333" stroke-width="0.6"/>
<text x="293.4" y="136.20000000000002" font-size="5.0" text-anchor="end" font-weight="normal" fill="#222">100</text>
<line x1="296.2" y1="226.5" x2="297.5" y2="226.5" stroke="#555" stroke-width="0.5"/>
<line x1="296.2" y1="206.5" x2="297.5" y2="206.5" stroke="#555" stroke-width="0.5"/>
<line x1="296.2" y1="185.5" x2="297.5" y2="185.5" stroke="#555" stroke-width="0.5"/>
<line x1="296.2" y1="165.5" x2="297.5" y2="165.5" stroke="#555" stroke-width="0.5"/>
<line x1="296.2" y1="144.5" x2="297.5" y2="144.5" stroke="#555" stroke-width="0.5"/>
<line x1="298.5" y1="237.2" x2="298.5" y2="239.6" stroke="#444" stroke-width="0.6"/>
<line x1="306.5" y1="237.2" x2="306.5" y2="238.6" stroke="#777" stroke-width="0.4"/>
<line x1="310.5" y1="237.2" x2="310.5" y2="238.6" stroke="#777" stroke-width="0.4"/>
<line x1="314.5" y1="237.2" x2="314.5" y2="238.6" stroke="#777" stroke-width="0.4"/>
<line x1="316.5" y1="237.2" x2="316.5" y2="238.6" stroke="#777" stroke-width="0.4"/>
<line x1="319.5" y1="237.2" x2="319.5" y2="238.6" stroke="#777" stroke-width="0.4"/>
<line x1="320.5" y1="237.2" x2="320.5" y2="238.6" stroke="#777" stroke-width="0.4"/>
<line x1="322.5" y1="237.2" x2="322.5" y2="238.6" stroke="#777" stroke-width="0.4"/>
<line x1="323.5" y1="237.2" x2="323.5" y2="238.6" stroke="#777" stroke-width="0.4"/>
<line x1="325.5" y1="237.2" x2="325.5" y2="239.6" stroke="#444" stroke-width="0.6"/>
<line x1="333.5" y1="237.2" x2="333.5" y2="238.6" stroke="#777" stroke-width="0.4"/>
<line x1="337.5" y1="237.2" x2="337.5" y2="238.6" stroke="#777" stroke-width="0.4"/>
<line x1="341.5" y1="237.2" x2="341.5" y2="238.6" stroke="#777" stroke-width="0.4"/>
<line x1="343.5" y1="237.2" x2="343.5" y2="238.6" stroke="#777" stroke-width="0.4"/>
<line x1="346.5" y1="237.2" x2="346.5" y2="238.6" stroke="#777" stroke-width="0.4"/>
<line x1="347.5" y1="237.2" x2="347.5" y2="238.6" stroke="#777" stroke-width="0.4"/>
<line x1="349.5" y1="237.2" x2="349.5" y2="238.6" stroke="#777" stroke-width="0.4"/>
<line x1="350.5" y1="237.2" x2="350.5" y2="238.6" stroke="#777" stroke-width="0.4"/>
<line x1="352.5" y1="237.2" x2="352.5" y2="239.6" stroke="#444" stroke-width="0.6"/>
<line x1="360.5" y1="237.2" x2="360.5" y2="238.6" stroke="#777" stroke-width="0.4"/>
<line x1="364.5" y1="237.2" x2="364.5" y2="238.6" stroke="#777" stroke-width="0.4"/>
<line x1="368.5" y1="237.2" x2="368.5" y2="238.6" stroke="#777" stroke-width="0.4"/>
<line x1="370.5" y1="237.2" x2="370.5" y2="238.6" stroke="#777" stroke-width="0.4"/>
<line x1="373.5" y1="237.2" x2="373.5" y2="238.6" stroke="#777" stroke-width="0.4"/>
<line x1="374.5" y1="237.2" x2="374.5" y2="238.6" stroke="#777" stroke-width="0.4"/>
<line x1="376.5" y1="237.2" x2="376.5" y2="238.6" stroke="#777" stroke-width="0.4"/>
<line x1="377.5" y1="237.2" x2="377.5" y2="238.6" stroke="#777" stroke-width="0.4"/>
<line x1="379.5" y1="237.2" x2="379.5" y2="239.6" stroke="#444" stroke-width="0.6"/>
<line x1="387.5" y1="237.2" x2="387.5" y2="238.6" stroke="#777" stroke-width="0.4"/>
<line x1="391.5" y1="237.2" x2="391.5" y2="238.6" stroke="#777" stroke-width="0.4"/>
<line x1="395.5" y1="237.2" x2="395.5" y2="238.6" stroke="#777" stroke-width="0.4"/>
<line x1="397.5" y1="237.2" x2="397.5" y2="238.6" stroke="#777" stroke-width="0.4"/>
<line x1="400.5" y1="237.2" x2="400.5" y2="238.6" stroke="#777" stroke-width="0.4"/>
<line x1="401.5" y1="237.2" x2="401.5" y2="238.6" stroke="#777" stroke-width="0.4"/>
<line x1="403.5" y1="237.2" x2="403.5" y2="238.6" stroke="#777" stroke-width="0.4"/>
<line x1="404.5" y1="237.2" x2="404.5" y2="238.6" stroke="#777" stroke-width="0.4"/>
<line x1="406.5" y1="237.2" x2="406.5" y2="239.6" stroke="#444" stroke-width="0.6"/>
<line x1="406.5" y1="237.2" x2="406.5" y2="239.6" stroke="#444" stroke-width="0.6"/>
<line x1="414.5" y1="237.2" x2="414.5" y2="238.6" stroke="#777" stroke-width="0.4"/>
<line x1="418.5" y1="237.2" x2="418.5" y2="238.6" stroke="#777" stroke-width="0.4"/>
<line x1="422.5" y1="237.2" x2="422.5" y2="238.6" stroke="#777" stroke-width="0.4"/>
<line x1="424.5" y1="237.2" x2="424.5" y2="238.6" stroke="#777" stroke-width="0.4"/>
<line x1="426.5" y1="237.2" x2="426.5" y2="238.6" stroke="#777" stroke-width="0.4"/>
<line x1="428.5" y1="237.2" x2="428.5" y2="238.6" stroke="#777" stroke-width="0.4"/>
<line x1="430.5" y1="237.2" x2="430.5" y2="238.6" stroke="#777" stroke-width="0.4"/>
<line x1="431.5" y1="237.2" x2="431.5" y2="238.6" stroke="#777" stroke-width="0.4"/>
<line x1="432.5" y1="237.2" x2="432.5" y2="239.6" stroke="#444" stroke-width="0.6"/>
<line x1="440.5" y1="237.2" x2="440.5" y2="238.6" stroke="#777" stroke-width="0.4"/>
<line x1="445.5" y1="237.2" x2="445.5" y2="238.6" stroke="#777" stroke-width="0.4"/>
<line x1="448.5" y1="237.2" x2="448.5" y2="238.6" stroke="#777" stroke-width="0.4"/>
<line x1="451.5" y1="237.2" x2="451.5" y2="238.6" stroke="#777" stroke-width="0.4"/>
<line x1="453.5" y1="237.2" x2="453.5" y2="238.6" stroke="#777" stroke-width="0.4"/>
<line x1="455.5" y1="237.2" x2="455.5" y2="238.6" stroke="#777" stroke-width="0.4"/>
<line x1="457.5" y1="237.2" x2="457.5" y2="238.6" stroke="#777" stroke-width="0.4"/>
<line x1="458.5" y1="237.2" x2="458.5" y2="238.6" stroke="#777" stroke-width="0.4"/>
<line x1="459.5" y1="237.2" x2="459.5" y2="239.6" stroke="#444" stroke-width="0.6"/>
<line x1="467.5" y1="237.2" x2="467.5" y2="238.6" stroke="#777" stroke-width="0.4"/>
<line x1="472.5" y1="237.2" x2="472.5" y2="238.6" stroke="#777" stroke-width="0.4"/>
<line x1="475.5" y1="237.2" x2="475.5" y2="238.6" stroke="#777" stroke-width="0.4"/>
<line x1="478.5" y1="237.2" x2="478.5" y2="238.6" stroke="#777" stroke-width="0.4"/>
<line x1="480.5" y1="237.2" x2="480.5" y2="238.6" stroke="#777" stroke-width="0.4"/>
<line x1="482.5" y1="237.2" x2="482.5" y2="238.6" stroke="#777" stroke-width="0.4"/>
<line x1="483.5" y1="237.2" x2="483.5" y2="238.6" stroke="#777" stroke-width="0.4"/>
<line x1="485.5" y1="237.2" x2="485.5" y2="238.6" stroke="#777" stroke-width="0.4"/>
<line x1="486.5" y1="237.2" x2="486.5" y2="239.6" stroke="#444" stroke-width="0.6"/>
<line x1="494.5" y1="237.2" x2="494.5" y2="238.6" stroke="#777" stroke-width="0.4"/>
<line x1="499.5" y1="237.2" x2="499.5" y2="238.6" stroke="#777" stroke-width="0.4"/>
<line x1="502.5" y1="237.2" x2="502.5" y2="238.6" stroke="#777" stroke-width="0.4"/>
<line x1="505.5" y1="237.2" x2="505.5" y2="238.6" stroke="#777" stroke-width="0.4"/>
<line x1="507.5" y1="237.2" x2="507.5" y2="238.6" stroke="#777" stroke-width="0.4"/>
<line x1="509.5" y1="237.2" x2="509.5" y2="238.6" stroke="#777" stroke-width="0.4"/>
<line x1="510.5" y1="237.2" x2="510.5" y2="238.6" stroke="#777" stroke-width="0.4"/>
<line x1="511.5" y1="237.2" x2="511.5" y2="238.6" stroke="#777" stroke-width="0.4"/>
<line x1="513.5" y1="237.2" x2="513.5" y2="239.6" stroke="#444" stroke-width="0.6"/>
<text x="298.2" y="246.5" font-size="5.0" text-anchor="middle" font-weight="normal" fill="#111">1</text>
<text x="324.8" y="246.5" font-size="5.0" text-anchor="middle" font-weight="normal" fill="#111">10</text>
<text x="352" y="246.5" font-size="5.0" text-anchor="middle" font-weight="normal" fill="#111">100</text>
<text x="379" y="246.5" font-size="5.0" text-anchor="middle" font-weight="normal" fill="#111">1000</text>
<text x="405.6" y="246.5" font-size="5.0" text-anchor="middle" font-weight="normal" fill="#111">10000</text>
<text x="432.4" y="246.5" font-size="5.0" text-anchor="middle" font-weight="normal" fill="#111">10</text>
<text x="459.6" y="246.5" font-size="5.0" text-anchor="middle" font-weight="normal" fill="#111">100</text>
<text x="486.4" y="246.5" font-size="5.0" text-anchor="middle" font-weight="normal" fill="#111">1000</text>
<text x="511.5" y="246.5" font-size="5.0" text-anchor="middle" font-weight="normal" fill="#111">10000</text>
</g>
</svg>
</body></html>
